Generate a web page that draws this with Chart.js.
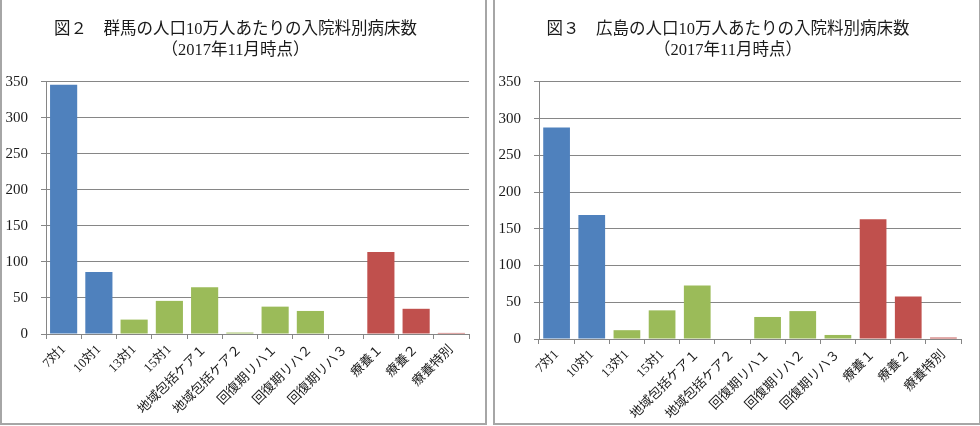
<!DOCTYPE html>
<html>
<head>
<meta charset="utf-8">
<script src="https://cdn.jsdelivr.net/npm/chart.js@4/dist/chart.umd.min.js"></script>
<style>
  body { margin: 0; background: #fff; overflow: hidden; }
  .panel { position: absolute; top: -2px; height: 427px; box-sizing: border-box; border: 2px solid #a6a6a6; background: #fff; }
  #p1 { left: 0; width: 487px; }
  #p2 { left: 493px; width: 488px; }
  canvas { display: block; }
</style>
</head>
<body>
<div class="panel" id="p1"><canvas id="gunma" width="483" height="423"></canvas></div>
<div class="panel" id="p2"><canvas id="hiroshima" width="484" height="423"></canvas></div>
<script>
const labels = [
  "7対1", "10対1", "13対1", "15対1",
  "地域包括ケア１", "地域包括ケア２",
  "回復期リハ１", "回復期リハ２", "回復期リハ３",
  "療養１", "療養２", "療養特別"
];
// per-category group: 0 = 一般, 1 = 地域包括/回復期, 2 = 療養
const groups = [0, 0, 1, 1, 1, 1, 1, 1, 1, 2, 2, 2];

const gunma = [346, 86, 20, 46, 65, 2, 38, 32, 0, 114, 35, 1.5];
const hiroshima = [288, 169, 12, 39, 73, 0, 30, 38, 5.5, 163, 58, 2];

const yTicks = [0, 50, 100, 150, 200, 250, 300, 350];

const groupColors = ["#4f81bd", "#9bbb59", "#c0504d"];
const barColors = groups.map(g => groupColors[g]);

const fontFam = "'Liberation Serif', 'Noto Sans CJK JP', serif";

function makeChart(id, title, values, xHeight, padRight, barPct) {
  const ctx = document.getElementById(id).getContext("2d");
  return new Chart(ctx, {
    type: "bar",
    data: {
      labels,
      datasets: [{
        data: values,
        backgroundColor: barColors,
        borderWidth: 0,
        barPercentage: barPct,
        categoryPercentage: 1
      }]
    },
    options: {
      responsive: false,
      animation: false,
      layout: { padding: { left: 0, right: padRight, top: 0, bottom: 0 } },
      plugins: {
        legend: { display: false },
        tooltip: { enabled: false },
        title: {
          display: true,
          text: title,
          color: "#1a1a1a",
          font: { family: fontFam, size: 16.5, weight: "normal", lineHeight: 1.22 },
          padding: { top: 20, bottom: 21.7 }
        }
      },
      scales: {
        x: {
          grid: { drawOnChartArea: false, drawTicks: true, tickLength: 5, color: "#868686", offset: true },
          border: { color: "#868686" },
          ticks: {
            color: "#1a1a1a",
            font: { family: fontFam, size: 13 },
            maxRotation: 45,
            minRotation: 45,
            padding: 3,
            autoSkip: false
          },
          afterFit: scale => { scale.height = xHeight; }
        },
        y: {
          min: 0,
          max: 350,
          afterBuildTicks: scale => { scale.ticks = yTicks.map(v => ({ value: v })); },
          grid: { color: "#868686", tickLength: 5, drawTicks: true },
          border: { color: "#868686" },
          ticks: {
            color: "#1a1a1a",
            font: { family: fontFam, size: 15 },
            padding: 13
          },
          afterFit: scale => { scale.width = 44; }
        }
      }
    }
  });
}

makeChart("gunma", ["図２　群馬の人口10万人あたりの入院料別病床数", "（2017年11月時点）"], gunma, 89, 16, 0.77);
makeChart("hiroshima", ["図３　広島の人口10万人あたりの入院料別病床数", "（2017年11月時点）"], hiroshima, 84, 18, 0.76);
</script>
</body>
</html>
